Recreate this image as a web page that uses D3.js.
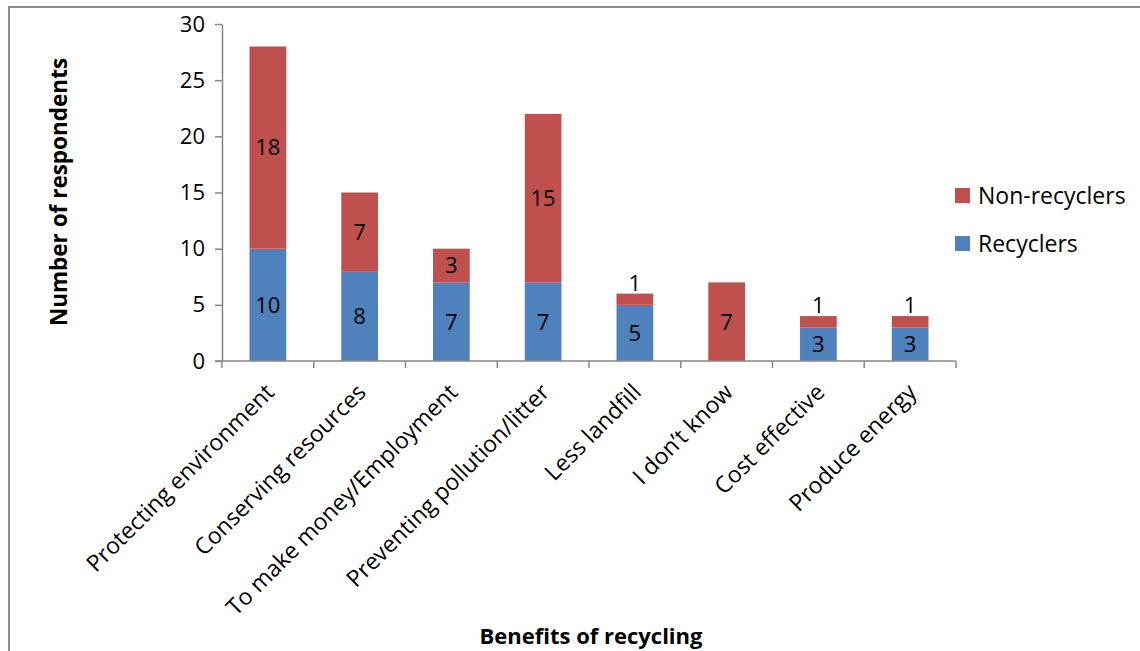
<!DOCTYPE html>
<html>
<head>
<meta charset="utf-8">
<script src="https://cdn.jsdelivr.net/npm/d3@7"></script>
<style>
  html, body { margin: 0; padding: 0; background: #fff; }
  svg { display: block; font-family: "Open Sans", Lato, sans-serif; }
</style>
</head>
<body>
<svg id="chart" width="1140" height="651"></svg>
<script>
// Benefits of recycling, by respondent group
const categories = [
  "Protecting environment",
  "Conserving resources",
  "To make money/Employment",
  "Preventing pollution/litter",
  "Less landfill",
  "I don\u2019t know",
  "Cost effective",
  "Produce energy"
];
const recyclers    = [10, 8, 7, 7, 5, 0, 3, 3];
const nonRecyclers = [18, 7, 3, 15, 1, 7, 1, 1];
const seriesNames  = ["Recyclers", "Non-recyclers"];
const yTicks = [0, 5, 10, 15, 20, 25, 30];

const colors = { "Recyclers": "#4F81BD", "Non-recyclers": "#C0504D" };

const svg = d3.select("#chart");

// outer chart frame
svg.append("rect")
  .attr("x", 9).attr("y", 7)
  .attr("width", 1160).attr("height", 680)
  .attr("fill", "none").attr("stroke", "#8c8c8c").attr("stroke-width", 2);

const plot = { left: 222, right: 956, top: 24, bottom: 361 };

const x = d3.scaleBand()
  .domain(categories)
  .range([plot.left, plot.right])
  .paddingInner(0.6)
  .paddingOuter(0.3);

const y = d3.scaleLinear()
  .domain([0, 30])
  .range([plot.bottom, plot.top]);

const rows = categories.map((c, i) => ({
  category: c,
  "Recyclers": recyclers[i],
  "Non-recyclers": nonRecyclers[i]
}));
const stacked = d3.stack().keys(seriesNames)(rows);

// bars
const g = svg.append("g");
stacked.forEach(layer => {
  g.selectAll(null)
    .data(layer.filter(d => d[1] > d[0]))
    .join("rect")
    .attr("x", d => x(d.data.category))
    .attr("width", x.bandwidth())
    .attr("y", d => y(d[1]))
    .attr("height", d => y(d[0]) - y(d[1]))
    .attr("fill", colors[layer.key]);
});

// y axis
const yAxis = svg.append("g")
  .attr("transform", `translate(${plot.left},0)`)
  .call(d3.axisLeft(y).tickValues(yTicks).tickSize(7).tickPadding(10).tickSizeOuter(0));
yAxis.select(".domain").attr("stroke", "#868686").attr("stroke-width", 1.5);
yAxis.selectAll(".tick line").attr("stroke", "#868686").attr("stroke-width", 1.5);
yAxis.selectAll(".tick text")
  .attr("font-size", 22).attr("fill", "#000")
  .attr("font-family", "'Open Sans', Lato, sans-serif");

// x axis: tick marks sit on the category boundaries
const xAxisG = svg.append("g").attr("transform", `translate(0,${plot.bottom})`);
xAxisG.append("line")
  .attr("x1", plot.left - 7).attr("x2", plot.right)
  .attr("stroke", "#868686").attr("stroke-width", 1.5);
const boundaries = categories.map(c => x(c) - (x.step() - x.bandwidth()) / 2)
  .concat([plot.right]);
xAxisG.selectAll(null)
  .data(boundaries)
  .join("line")
  .attr("x1", d => d).attr("x2", d => d)
  .attr("y1", 0).attr("y2", 7)
  .attr("stroke", "#868686").attr("stroke-width", 1.5);

// rotated category labels
xAxisG.selectAll(null)
  .data(categories)
  .join("text")
  .attr("transform", d => `translate(${x(d) + x.bandwidth() / 2 + 2},${27}) rotate(-45)`)
  .attr("text-anchor", "end")
  .attr("dy", "0.35em")
  .attr("font-size", 23)
  .attr("fill", "#000")
  .text(d => d);

// value labels: centred in each segment, or just above a thin top segment
stacked.forEach(layer => {
  svg.selectAll(null)
    .data(layer.filter(d => d[1] > d[0]))
    .join("text")
    .attr("x", d => x(d.data.category) + x.bandwidth() / 2)
    .attr("y", d => {
      const h = y(d[0]) - y(d[1]);
      return h < 20 ? y(d[1]) - 11 : (y(d[0]) + y(d[1])) / 2;
    })
    .attr("dy", "0.36em")
    .attr("text-anchor", "middle")
    .attr("font-size", 22)
    .attr("fill", "#000")
    .text(d => d[1] - d[0]);
});

// axis titles
svg.append("text")
  .attr("transform", `translate(67,192) rotate(-90)`)
  .attr("text-anchor", "middle")
  .attr("font-size", 22.5)
  .attr("font-weight", "bold")
  .text("Number of respondents");

svg.append("text")
  .attr("x", 591).attr("y", 644)
  .attr("text-anchor", "middle")
  .attr("font-size", 22)
  .attr("font-weight", "bold")
  .text("Benefits of recycling");

// legend
const legendItems = ["Non-recyclers", "Recyclers"];
const legend = svg.append("g").attr("transform", "translate(955,188)");
legendItems.forEach((name, i) => {
  const row = legend.append("g").attr("transform", `translate(0,${i * 48})`);
  row.append("rect").attr("width", 15).attr("height", 15).attr("fill", colors[name]);
  row.append("text")
    .attr("x", 23).attr("y", 8)
    .attr("dy", "0.36em")
    .attr("font-size", 23)
    .attr("fill", "#000")
    .text(name);
});
</script>
</body>
</html>
